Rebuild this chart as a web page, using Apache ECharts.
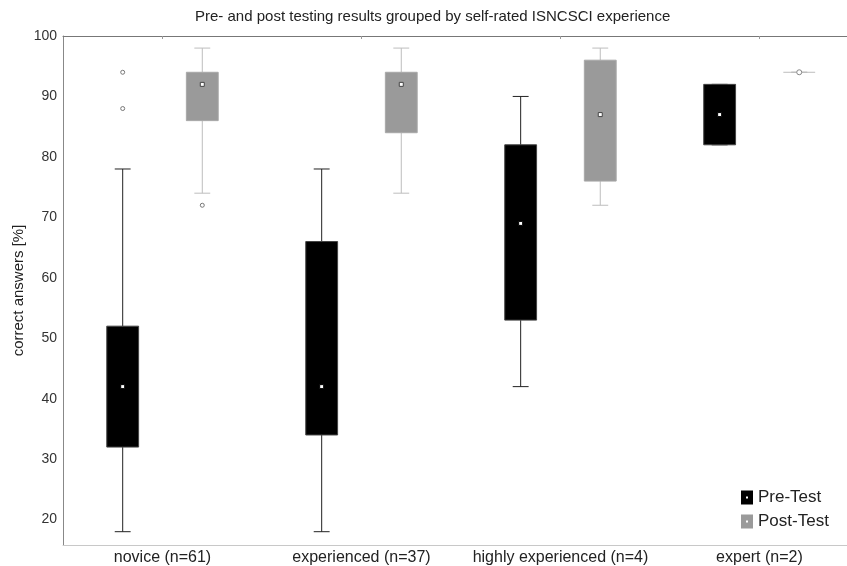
<!DOCTYPE html>
<html>
<head>
<meta charset="utf-8">
<script src="https://cdn.jsdelivr.net/npm/echarts@6/dist/echarts.min.js"></script>
<style>
  html, body { margin: 0; padding: 0; background: #fff; }
  #chart { width: 847px; height: 566px; }
</style>
</head>
<body>
<div id="chart"></div>
<script>
// Experience groups shown along the x axis
const categories = ['novice (n=61)', 'experienced (n=37)', 'highly experienced (n=4)', 'expert (n=2)'];

// Box statistics per group: [min, Q1, median, Q3, max] in % correct answers
const preTest = [
  [18, 32, 42, 52, 78],
  [18, 34, 42, 66, 78],
  [42, 53, 69, 82, 90],
  [82, 82, 87, 92, 92]
];
const postTest = [
  [74, 86, 92, 94, 98],
  [74, 84, 92, 94, 98],
  [72, 76, 87, 96, 98],
  [94, 94, 94, 94, 94]
];

// Outliers: [group index, value]
const preOutliers = [[0, 94], [0, 88]];
const postOutliers = [[0, 72]];

// Axis ranges and labelled ticks
const xRange = [-0.5, 3.44];
const yRange = [15.8, 100];
const yTickLabels = [20, 30, 40, 50, 60, 70, 80, 90, 100];
const groupPositions = categories.map((c, i) => i);

const chart = echarts.init(document.getElementById('chart'), null, { renderer: 'canvas' });

const GROUP_OFFSET = 0.2;   // distance from group centre to box centre, in group units
const BOX_SHARE = 0.16;     // box width, in group units

function toRows(stats) {
  return stats.map((s, i) => [i].concat(s));
}

function boxRenderer(side, look) {
  return function (params, api) {
    const idx = api.value(0);
    const unit = api.size([1, 0])[0];
    const cx = api.coord([idx + side * GROUP_OFFSET, 0])[0];
    const boxW = unit * BOX_SHARE;
    const capW = boxW / 2;
    const y = (k) => api.coord([idx, api.value(k)])[1];
    const yMin = y(1), yQ1 = y(2), yMed = y(3), yQ3 = y(4), yMax = y(5);
    const whisker = { stroke: look.whisker, lineWidth: 1 };
    const children = [
      { type: 'line', shape: { x1: cx, y1: yQ1, x2: cx, y2: yMin }, style: whisker },
      { type: 'line', shape: { x1: cx, y1: yQ3, x2: cx, y2: yMax }, style: whisker },
      { type: 'line', shape: { x1: cx - capW / 2, y1: yMin, x2: cx + capW / 2, y2: yMin }, style: whisker },
      { type: 'line', shape: { x1: cx - capW / 2, y1: yMax, x2: cx + capW / 2, y2: yMax }, style: whisker }
    ];
    if (yQ1 - yQ3 > 0.5) {
      children.push({
        type: 'rect',
        shape: { x: cx - boxW / 2, y: yQ3, width: boxW, height: yQ1 - yQ3 },
        style: { fill: look.fill, stroke: look.border, lineWidth: 1 }
      });
      children.push({
        type: 'rect',
        shape: { x: cx - 2, y: yMed - 2, width: 4, height: 4 },
        style: { fill: '#fff', stroke: look.dot, lineWidth: 1 }
      });
    } else {
      // collapsed box: a flat line with a round median marker
      children.push({
        type: 'line',
        shape: { x1: cx - boxW / 2, y1: yQ1, x2: cx + boxW / 2, y2: yQ1 },
        style: whisker
      });
      children.push({
        type: 'circle',
        shape: { cx: cx, cy: yMed, r: 2.5 },
        style: { fill: '#fff', stroke: '#888', lineWidth: 1 }
      });
    }
    return { type: 'group', children: children };
  };
}

const preLook = { fill: '#000', border: '#444', whisker: '#222', dot: '#000' };
const postLook = { fill: '#9a9a9a', border: '#a8a8a8', whisker: '#bdbdbd', dot: '#444' };

function outlierSeries(points, side) {
  return {
    type: 'custom',
    silent: true,
    data: points,
    renderItem: function (params, api) {
      const p = api.coord([api.value(0) + side * GROUP_OFFSET, api.value(1)]);
      return {
        type: 'circle',
        shape: { cx: p[0], cy: p[1], r: 2 },
        style: { fill: '#fff', stroke: '#777', lineWidth: 1 }
      };
    },
    encode: { x: 0, y: 1 },
    z: 3
  };
}

const legendIcon = 'path://M0,0L12,0L12,14L0,14Z M5,6L5,8L7,8L7,6Z';

chart.setOption({
  animation: false,
  backgroundColor: '#fff',
  textStyle: { fontFamily: 'Liberation Sans, Arial, sans-serif' },
  title: {
    text: 'Pre- and post testing results grouped by self-rated ISNCSCI experience',
    left: 195,
    top: 9,
    padding: 0,
    textStyle: { fontSize: 15, fontWeight: 'normal', color: '#222' }
  },
  legend: {
    data: ['Pre-Test', 'Post-Test'],
    orient: 'vertical',
    left: 736,
    top: 484,
    itemWidth: 12,
    itemHeight: 14,
    itemGap: 7,
    icon: legendIcon,
    selectedMode: false,
    textStyle: { fontSize: 17, color: '#222' }
  },
  grid: { left: 63, top: 36, right: 0, bottom: 21, containLabel: false },
  xAxis: [
    {
      type: 'value',
      min: xRange[0],
      max: xRange[1],
      position: 'bottom',
      axisLine: { show: true, onZero: false, lineStyle: { color: '#c8c8c8', width: 1 } },
      axisTick: { show: false },
      axisLabel: {
        fontSize: 16,
        color: '#222',
        margin: 5,
        customValues: groupPositions,
        formatter: (v) => categories[Math.round(v)]
      },
      splitLine: { show: false }
    },
    {
      type: 'value',
      min: xRange[0],
      max: xRange[1],
      position: 'top',
      axisLine: { show: true, onZero: false, lineStyle: { color: '#777', width: 1 } },
      axisTick: { show: true, inside: true, length: 3, customValues: groupPositions, lineStyle: { color: '#999' } },
      axisLabel: { show: false },
      splitLine: { show: false }
    }
  ],
  yAxis: {
    type: 'value',
    min: yRange[0],
    max: yRange[1],
    splitNumber: 8,
    minInterval: 10,
    maxInterval: 10,
    name: 'correct answers [%]',
    nameLocation: 'middle',
    nameGap: 37,
    nameMoveOverlap: false,
    nameTextStyle: { fontSize: 15, color: '#222' },
    axisLine: { show: true, onZero: false, lineStyle: { color: '#888', width: 1 } },
    axisTick: { show: false },
    splitLine: { show: false },
    axisLabel: {
      fontSize: 14,
      color: '#333',
      margin: 6,
      showMinLabel: false,
      formatter: function (v) {
        return yTickLabels.indexOf(Math.round(v * 1000) / 1000) >= 0 ? String(v) : '';
      }
    }
  },
  series: [
    {
      name: 'Pre-Test',
      type: 'custom',
      itemStyle: { color: '#000' },
      data: toRows(preTest),
      encode: { x: 0, y: [1, 2, 3, 4, 5] },
      renderItem: boxRenderer(-1, preLook),
      z: 2
    },
    {
      name: 'Post-Test',
      type: 'custom',
      itemStyle: { color: '#9a9a9a' },
      data: toRows(postTest),
      encode: { x: 0, y: [1, 2, 3, 4, 5] },
      renderItem: boxRenderer(1, postLook),
      z: 2
    },
    outlierSeries(preOutliers, -1),
    outlierSeries(postOutliers, 1)
  ]
});
</script>
</body>
</html>
